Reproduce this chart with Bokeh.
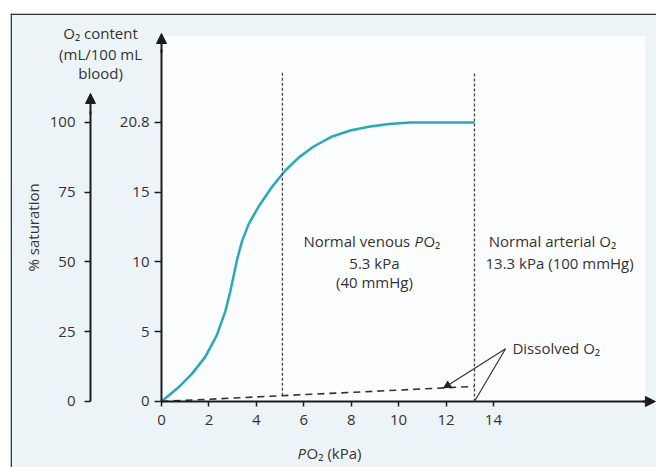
from bokeh.plotting import figure
from bokeh.models import LinearAxis, FixedTicker, Arrow, NormalHead, Span, Range1d
from bokeh.core.properties import value
from bokeh.embed import file_html
from bokeh.resources import INLINE
import numpy as np

# ---------------- data ----------------
po2_kpa = [0, 0.72, 1.28, 1.84, 2.33, 2.69, 2.9, 3.04, 3.18, 3.39, 3.67, 4.09,
           4.65, 5.22, 5.8, 6.4, 7.2, 8.0, 8.8, 9.6, 10.5, 11.5, 12.5, 13.2]
saturation_pct = [0, 5.1, 9.9, 15.9, 23.7, 32.3, 39.4, 45.0, 50.6, 57.3, 63.5, 69.8,
                  76.8, 82.8, 87.5, 91.3, 95.0, 97.2, 98.6, 99.5, 100, 100, 100, 100]
dissolved_po2 = [0, 13.2]
dissolved_pct = [0, 5.4]
venous_po2 = 5.1
arterial_po2 = 13.2
x_ticks = [0, 2, 4, 6, 8, 10, 12, 14]
sat_ticks = [0, 25, 50, 75, 100]
sat_tick_labels = ["0", "25", "50", "75", "100"]
content_tick_labels = ["0", "5", "10", "15", "20.8"]

FONT = value("Open Sans")
FS = value("15px")
TXT = "#333333"
AX = "#1c1c1c"

X0, X1 = -6.369, 20.877
Y0, Y1 = -23.656, 139.068

p = figure(width=656, height=467,
           x_range=Range1d(X0, X1), y_range=Range1d(Y0, Y1),
           x_axis_location=None, y_axis_location=None,
           toolbar_location=None, output_backend="svg",
           min_border_left=10, min_border_top=13, min_border_right=0, min_border_bottom=0,
           background_fill_color="#edf4f8", border_fill_color="white",
           outline_line_color=None)
p.grid.visible = False

# white plotting area
p.quad(left=[0], right=[20.4], bottom=[0], top=[131], fill_color="#fcfdfe", line_color=None)

# border lines of the picture frame
p.add_layout(Span(location=X0 + 0.03, dimension="height", line_color="#333333", line_width=1.5))
p.add_layout(Span(location=Y1 - 0.3, dimension="width", line_color="#333333", line_width=1.5))

def style_axis(ax, tick_out, standoff):
    ax.axis_line_color = AX
    ax.axis_line_width = 2
    ax.major_tick_line_color = AX
    ax.major_tick_line_width = 1.5
    ax.minor_tick_line_color = None
    ax.major_tick_in = 0
    ax.major_tick_out = tick_out
    ax.major_label_standoff = standoff
    ax.major_label_text_font = "Open Sans"
    ax.major_label_text_font_size = "15px"
    ax.major_label_text_color = TXT

xaxis = LinearAxis(fixed_location=0, bounds=(0, 20.4), ticker=FixedTicker(ticks=x_ticks))
style_axis(xaxis, 5, 9)
p.add_layout(xaxis, "below")

inner = LinearAxis(fixed_location=0, bounds=(0, 126), ticker=FixedTicker(ticks=sat_ticks),
                   major_label_overrides={t: l for t, l in zip(sat_ticks, content_tick_labels)})
style_axis(inner, 7, 5)
p.add_layout(inner, "left")

outer = LinearAxis(fixed_location=-2.995, bounds=(0, 104), ticker=FixedTicker(ticks=sat_ticks),
                   major_label_overrides={t: l for t, l in zip(sat_ticks, sat_tick_labels)})
style_axis(outer, 6, 9)
p.add_layout(outer, "left")

# axis arrow heads
for xs, ys, xe, ye in [(0, 125, 0, 131.9), (-2.995, 103, -2.995, 110.4), (20.3, 0, 20.83, 0)]:
    p.add_layout(Arrow(end=NormalHead(size=10, fill_color=AX, line_color=AX),
                       x_start=xs, y_start=ys, x_end=xe, y_end=ye,
                       line_color=AX, line_width=2))

# dissociation curve
p.line(po2_kpa, saturation_pct, line_color="#29a8b9", line_width=2.5, line_join="round")

# dissolved O2
p.line(dissolved_po2, dissolved_pct, line_color="#333333", line_width=1.6, line_dash="7 5")

# vertical reference lines
ven_base = float(np.interp(venous_po2, dissolved_po2, dissolved_pct))
p.segment(x0=[venous_po2, arterial_po2], y0=[ven_base, 0],
          x1=[venous_po2, arterial_po2], y1=[118, 118],
          line_color="#444444", line_width=1.3, line_dash="3 2")

# annotation arrows for dissolved O2
dot_x = 11.9
dot_y = float(np.interp(dot_x, dissolved_po2, dissolved_pct))
p.add_layout(Arrow(end=NormalHead(size=7, fill_color="#222", line_color="#222"),
                   x_start=14.51, y_start=18.9, x_end=dot_x, y_end=dot_y,
                   line_color="#333", line_width=1.2))
p.add_layout(Arrow(end=None, x_start=14.51, y_start=18.9, x_end=arterial_po2, y_end=0,
                   line_color="#333", line_width=1.2))

def txt(x, y, s, align="center", italic=False, xo=0, angle=0):
    p.text(x=[x], y=[y], text=[s], text_font=FONT, text_font_size=FS,
           text_align=align, text_baseline="middle", text_color=TXT,
           text_font_style="italic" if italic else "normal", x_offset=xo, angle=angle)

# left header
txt(-2.57, 131.9, "O₂ content")
txt(-2.57, 124.7, "(mL/100 mL")
txt(-2.57, 117.9, "blood)")
txt(-5.44, 62.4, "% saturation", angle=np.pi / 2)

# x axis label
txt(5.74, -18.3, "P", align="left", italic=True)
txt(5.74, -18.3, "O₂ (kPa)", align="left", xo=9)

# venous text
txt(8.98, 57.7, "Normal venous", align="left", xo=-71)
txt(8.98, 57.7, "P", align="left", italic=True, xo=40)
txt(8.98, 57.7, "O₂", align="left", xo=49)
txt(8.98, 49.5, "5.3 kPa")
txt(8.98, 42.7, "(40 mmHg)")

# arterial text
txt(16.49, 57.7, "Normal arterial O₂")
txt(16.79, 49.5, "13.3 kPa (100 mmHg)")

# dissolved label
txt(14.8, 19.0, "Dissolved O₂", align="left")

open("out.html", "w").write(file_html(p, INLINE))
